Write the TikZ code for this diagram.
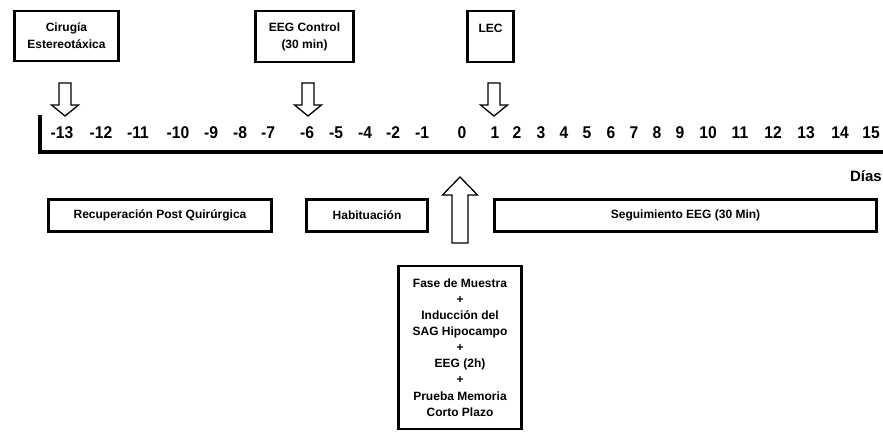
\documentclass[tikz,border=0pt]{standalone}
\usepackage{fontspec}
\setmainfont{Liberation Sans}
\newfontfamily\numfont[FakeStretch=0.92]{Liberation Sans}
\tikzset{
  box/.style={draw, line width=2.6pt, inner sep=0pt, align=center,
    font=\bfseries\fontsize{12}{17}\selectfont},
  num/.style={anchor=base, inner sep=0pt, font=\numfont\bfseries\fontsize{17}{20}\selectfont},
  blockarrow/.style={draw, line width=1.3pt, fill=white, line join=miter},
  downarrow/.pic={\draw[blockarrow] (-6,83)--(6,83)--(6,105)--(13.5,105)--(0,116)--(-13.5,105)--(-6,105)--cycle;},
  uparrow/.pic={\draw[blockarrow] (-8,243)--(8,243)--(8,195)--(17.5,195)--(0,177)--(-17.5,195)--(-8,195)--cycle;}
}
\begin{document}
\begin{tikzpicture}[x=1pt,y=-1pt]
\useasboundingbox (0,0) rectangle (883,432);

% events above the time line
\node[box, minimum width=104pt, minimum height=50pt] (cir) at (66.5,36) {Cirugía\\Estereotáxica};
\node[box, minimum width=98pt, minimum height=51pt] (eeg) at (304.5,36.5) {EEG Control\\(30 min)};
\node[box, minimum width=46pt, minimum height=51pt, text depth=17pt] (lec) at (490.5,36.5) {LEC};

% time line
\draw[line width=4pt, line join=miter] (40,115) -- (40,151.5) -- (883,151.5);
\foreach \v/\x in {-13/62,-12/101,-11/138,-10/178,-9/211,-8/240,-7/268,-6/307,-5/336,-4/365,-2/393,-1/422,
  0/462,1/495,2/517,3/541,4/564,5/587,6/611,7/634,8/657,9/680,10/708,11/740,12/773,13/806,14/840,15/871}
  \node[num] (n\v) at (\x,138) {\v};
\node[anchor=base east, inner sep=0pt, font=\bfseries\fontsize{15}{18}\selectfont] (dias) at (882,181) {Días};

\pic at (65,0) {downarrow};
\pic at (308,0) {downarrow};
\pic at (494,0) {downarrow};

% periods below the time line
\node[box, minimum width=223pt, minimum height=32pt] (rec) at (160,215.5) {Recuperación Post Quirúrgica};
\node[box, minimum width=121pt, minimum height=32pt] (hab) at (367,215.5) {Habituación};
\node[box, minimum width=382pt, minimum height=32pt] (seg) at (685.5,215.5) {Seguimiento EEG (30 Min)};

\pic at (460,0) {uparrow};

\node[box, minimum width=123pt, minimum height=163pt, font=\bfseries\fontsize{12}{16.1}\selectfont] (fase) at (460,347.5)
  {Fase de Muestra\\+\\Inducción del\\SAG Hipocampo\\+\\EEG (2h)\\+\\Prueba Memoria\\Corto Plazo};
\end{tikzpicture}
\end{document}
